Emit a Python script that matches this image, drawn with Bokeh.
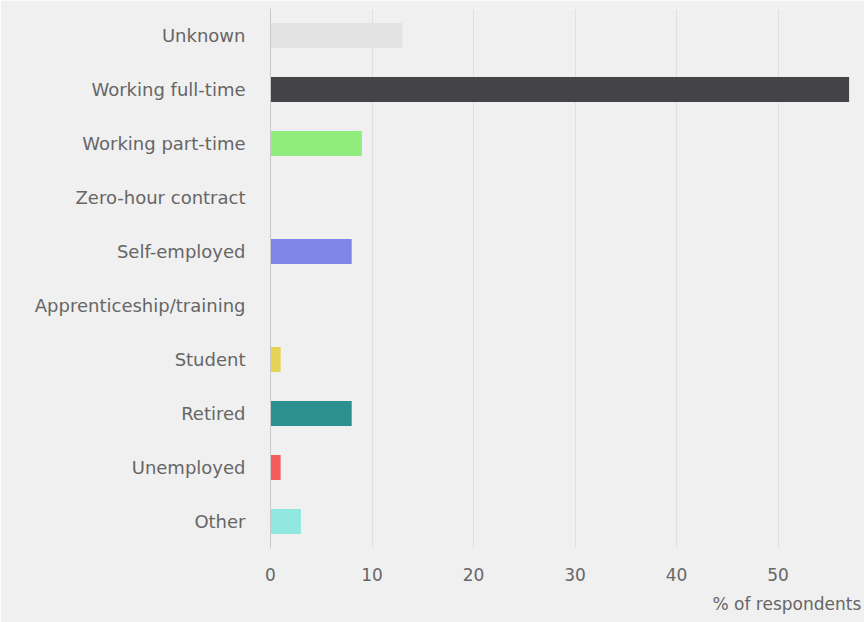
from bokeh.plotting import figure
from bokeh.models import ColumnDataSource, FactorRange, Range1d, Title, FixedTicker
from bokeh.embed import file_html
from bokeh.resources import INLINE

categories = ["Unknown", "Working full-time", "Working part-time", "Zero-hour contract",
              "Self-employed", "Apprenticeship/training", "Student", "Retired",
              "Unemployed", "Other"]
percent = [13, 57, 9, 0, 8, 0, 1, 8, 1, 3]
bar_colors = ["#e3e3e3", "#434348", "#90ed7d", "#7cb5ec", "#8085e9", "#f7a35c",
              "#e4d354", "#2b908f", "#f45b5b", "#91e8e1"]
x_ticks = [0, 10, 20, 30, 40, 50, 60]
x_title = "% of respondents"

FONT = "DejaVu Sans"
BG = "#f0f0f0"

src = ColumnDataSource(dict(cat=categories, val=percent, color=bar_colors))

p = figure(width=864, height=622, output_backend="svg", toolbar_location=None,
           y_range=FactorRange(factors=categories[::-1], range_padding=0),
           x_range=Range1d(0, 58.52),
           min_border_left=270, min_border_right=0, min_border_top=8,
           min_border_bottom=74)

p.hbar(y="cat", left=0, right="val", height=0.46, fill_color="color",
       line_color=None, source=src)

p.background_fill_color = BG
p.border_fill_color = BG
p.outline_line_color = None

p.ygrid.grid_line_color = None
p.xgrid.grid_line_color = "#e0e0e0"
p.xgrid.ticker = FixedTicker(ticks=x_ticks)

xa = p.xaxis[0]
xa.ticker = FixedTicker(ticks=x_ticks)
xa.axis_line_color = None
xa.major_tick_line_color = None
xa.minor_tick_line_color = None
xa.major_tick_out = 0
xa.major_label_standoff = 19
xa.major_label_text_font = FONT
xa.major_label_text_font_size = "17px"
xa.major_label_text_color = "#666666"

ya = p.yaxis[0]
ya.axis_line_color = "#c8c8c8"
ya.major_tick_line_color = None
ya.major_tick_out = 0
ya.major_label_standoff = 25
ya.major_label_text_font = FONT
ya.major_label_text_font_size = "18px"
ya.major_label_text_color = "#666666"

xt = Title(text=x_title, align="left", offset=442, text_font=FONT,
           text_font_size="17px", text_font_style="normal", text_color="#666666",
           standoff=17)
p.add_layout(xt, "below")

open("out.html", "w").write(file_html(p, INLINE))
